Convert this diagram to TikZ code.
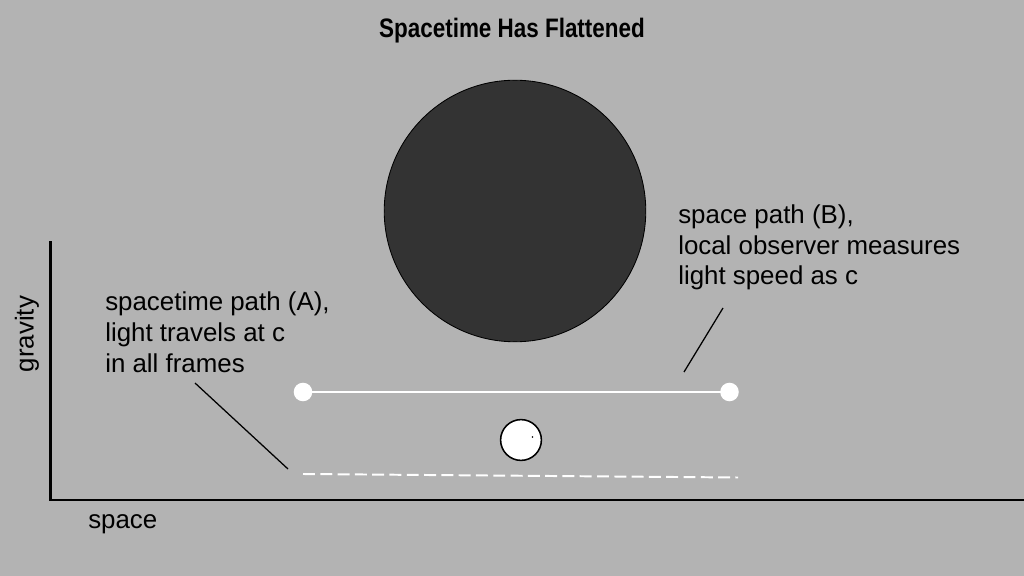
\documentclass[tikz,border=0pt]{standalone}
\usepackage{fontspec}
\setmainfont{Liberation Sans}
\definecolor{bg}{HTML}{B3B3B3}
\definecolor{planet}{HTML}{333333}
\begin{document}
\begin{tikzpicture}[x=0.025cm,y=-0.025cm,
  lbl/.style={font=\fontsize{18.4}{22}\selectfont, inner sep=0pt, align=left, anchor=base west},
  axis/.style={line width=1.5pt, black},
  leader/.style={line width=0.9pt, black},
  endpt/.style={circle, fill=white, minimum size=13.2pt, inner sep=0pt},
  ]
\fill[bg] (0,0) rectangle (1024,576);
\useasboundingbox (0,0) rectangle (1024,576);
% title
\node[font=\bfseries\fontsize{19}{22}\selectfont, inner sep=0pt, anchor=base, xscale=0.84] (title) at (512,38) {Spacetime Has Flattened};
% axes
\coordinate (ytop) at (50.5,241.5);
\coordinate (orig) at (50.5,500);
\coordinate (xend) at (1024,500);
\draw[axis] (ytop) -- (orig) -- (xend);
\node[font=\fontsize{18.4}{22}\selectfont, rotate=90, inner sep=0pt] (gravity) at (27,334) {gravity};
\node[lbl] (space) at (88,528) {space};
% big mass
\node[circle, draw=black, line width=0.6pt, fill=planet, minimum size=186pt, inner sep=0pt] (mass) at (515,211) {};
% space path B
\node[endpt] (pL) at (303,392) {};
\node[endpt] (pR) at (729.5,392) {};
\draw[white, line width=1.9pt] (pL.center) -- (pR.center);
% small observer
\node[circle, draw=black, line width=1.1pt, fill=white, minimum size=29pt, inner sep=0pt] (obs) at (521,440) {};
\fill[black] (532.5,437) circle (0.9);
% spacetime path A (dashed)
\coordinate (dA) at (303,474);
\coordinate (dB) at (738,477.5);
\draw[white, line width=1.4pt, dash pattern=on 8.5pt off 3.8pt] (dA) -- (dB);
% labels (anchor = baseline of last line)
\node[lbl] (labA) at (105,372) {spacetime path (A),\\light travels at c\\in all frames};
\node[lbl] (labB) at (678,285) {space path (B),\\local observer measures\\light speed as c};
% leaders
\coordinate (la1) at (195,383);
\coordinate (la2) at (288,469);
\draw[leader] (la1) -- (la2);
\coordinate (lb1) at (723,308);
\coordinate (lb2) at (684,372);
\draw[leader] (lb1) -- (lb2);
\end{tikzpicture}
\end{document}
